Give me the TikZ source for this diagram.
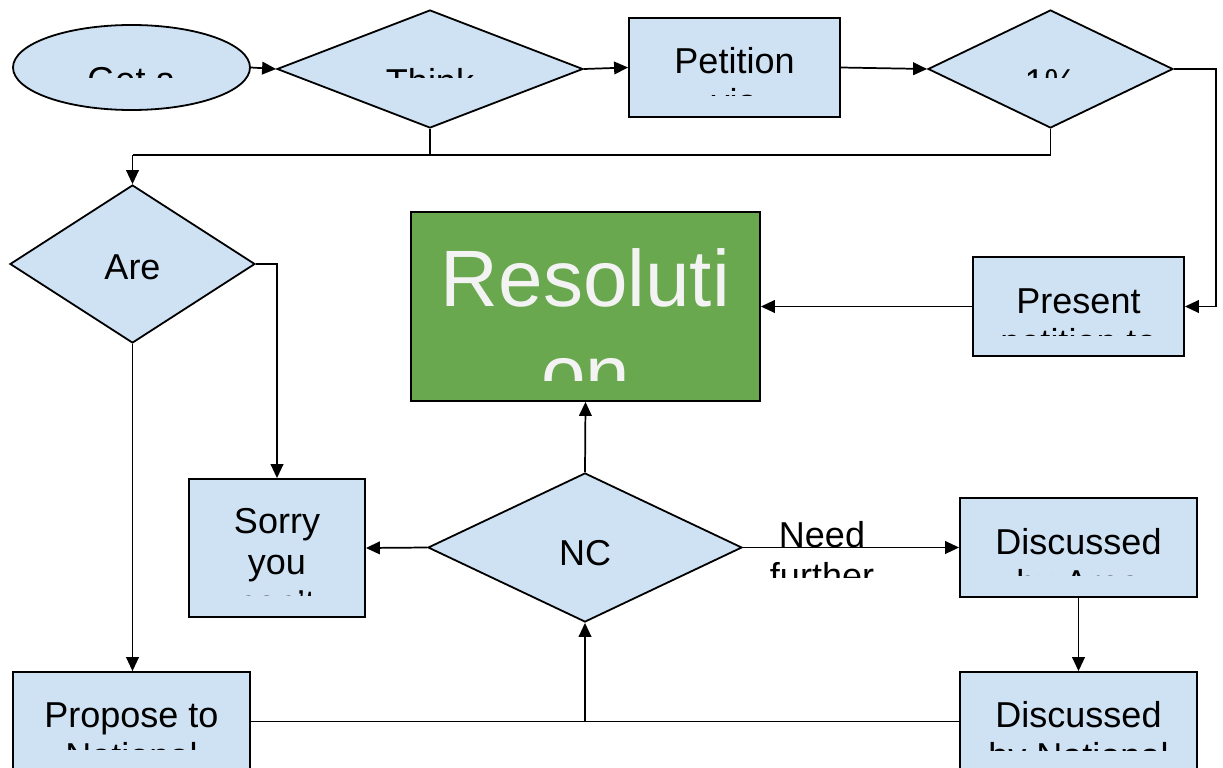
\documentclass[tikz,border=0pt]{standalone}
\usepackage{fontspec}
\setmainfont{Liberation Sans}
\usetikzlibrary{shapes.geometric,arrows.meta}
\definecolor{boxblue}{HTML}{CFE2F3}
\definecolor{resgreen}{HTML}{6AA84F}
\definecolor{restext}{HTML}{F3F3F3}
\tikzset{
  shp/.style={draw=black, line width=1.35pt, fill=boxblue, inner sep=0pt},
  dia/.style={shp, diamond},
  ell/.style={shp, ellipse},
  txt/.style={inner sep=0pt, align=center, anchor=base, font=\fontsize{27}{30.75}\selectfont},
  bigtxt/.style={inner sep=0pt, align=center, anchor=base, text=restext, font=\fontsize{60}{70.9}\selectfont},
  conn/.style={line width=1.3pt, draw=black},
  arr/.style={conn, -{Triangle[length=10.5pt,width=9.5pt]}},
}
\begin{document}
\begin{tikzpicture}[x=0.75pt, y=-0.75pt]
\useasboundingbox (0,0) rectangle (1223,767);
\clip (0,0) rectangle (1223,767);

% shapes
\node[ell, minimum width=177.75pt, minimum height=63.75pt] (get) at (131.5,67.5) {};
\node[dia, minimum width=229.5pt, minimum height=88.5pt] (think) at (430,69) {};
\node[shp, rectangle, minimum width=158.25pt, minimum height=74.25pt] (pet) at (734.5,67.5) {};
\node[dia, minimum width=183.75pt, minimum height=88.5pt] (pct) at (1050.5,69) {};
\node[dia, minimum width=183.75pt, minimum height=118.5pt] (are) at (132.5,264) {};
\node[shp, rectangle, fill=resgreen, minimum width=261.75pt, minimum height=141.75pt] (res) at (585.5,306.5) {};
\node[shp, rectangle, minimum width=158.25pt, minimum height=74.25pt] (pres) at (1078.5,306.5) {};
\node[shp, rectangle, minimum width=132pt, minimum height=103.5pt] (sorry) at (277,548) {};
\node[dia, minimum width=235.5pt, minimum height=111.75pt] (nc) at (585,547.5) {};
\node[shp, rectangle, minimum width=177.75pt, minimum height=74.25pt] (disca) at (1078.5,547.5) {};
\node[shp, rectangle, minimum width=177.75pt, minimum height=74.25pt] (discn) at (1078.5,721.5) {};
\node[shp, rectangle, minimum width=177.75pt, minimum height=74.25pt] (prop) at (131.5,721.5) {};

% texts (clipped as in the reference); base anchor = baseline of the last line
\begin{scope}\clip (13,25) rectangle (250,78);
\node[txt] (tget) at (131.5,92) {Get a};\end{scope}
\begin{scope}\clip (277,10) rectangle (583,78);
\node[txt] (tthink) at (430,94) {Think};\end{scope}
\begin{scope}\clip (629,18) rectangle (840,95);
\node[txt] (tpet) at (734.5,114) {Petition\\via};\end{scope}
\begin{scope}\clip (928,10) rectangle (1173,78);
\node[txt] (tpct) at (1050.5,94) {1\%};\end{scope}
\node[txt] (tare) at (132.5,279) {Are};
\begin{scope}\clip (411,212) rectangle (760,380);
\node[bigtxt] (tres) at (585.5,401.5) {Resoluti\\on};\end{scope}
\begin{scope}\clip (973,257) rectangle (1184,335);
\node[txt] (tpres) at (1078.5,354) {Present\\petition to};\end{scope}
\begin{scope}\clip (189,479) rectangle (365,595);
\node[txt] (tsorry) at (277,615) {Sorry\\you\\can't};\end{scope}
\node[txt] (tnc) at (585,565) {NC};
\begin{scope}\clip (760,500) rectangle (900,577);
\node[txt] (tneed) at (822,588) {Need\\further};\end{scope}
\begin{scope}\clip (960,498) rectangle (1197,575);
\node[txt] (tdisca) at (1078.5,595) {Discussed\\by Area};\end{scope}
\begin{scope}\clip (960,672) rectangle (1197,750);
\node[txt] (tdiscn) at (1078.5,768) {Discussed\\by National};\end{scope}
\begin{scope}\clip (13,672) rectangle (250,749);
\node[txt] (tprop) at (131.5,768) {Propose to\\National};\end{scope}

% junctions
\coordinate (j1) at (132.5,155);
\coordinate (rx) at (1216,0);

% connectors
\draw[arr] (get.east) -- (think.west);
\draw[arr] (think.east) -- (pet.west);
\draw[arr] (pet.east) -- (pct.west);
\draw[conn] (think.south) |- (j1);
\draw[conn] (pct.south) |- (j1);
\draw[arr] (j1) -- (are.north);
\draw[arr] (pct.east) -- (pct.east -| rx) |- (pres.east);
\draw[arr] (are.east) -| (sorry.north);
\draw[arr] (are.south) -- (are.south |- prop.north);
\draw[arr] (pres.west) -- (res.east);
\draw[arr] (nc.north) -- (res.south);
\draw[arr] (nc.west) -- (sorry.east);
\draw[arr] (nc.east) -- (disca.west);
\draw[arr] (disca.south) -- (discn.north);
\draw[conn] (prop.east) -- (discn.west);
\draw[arr] (nc.south |- prop.east) -- (nc.south);
\end{tikzpicture}
\end{document}
